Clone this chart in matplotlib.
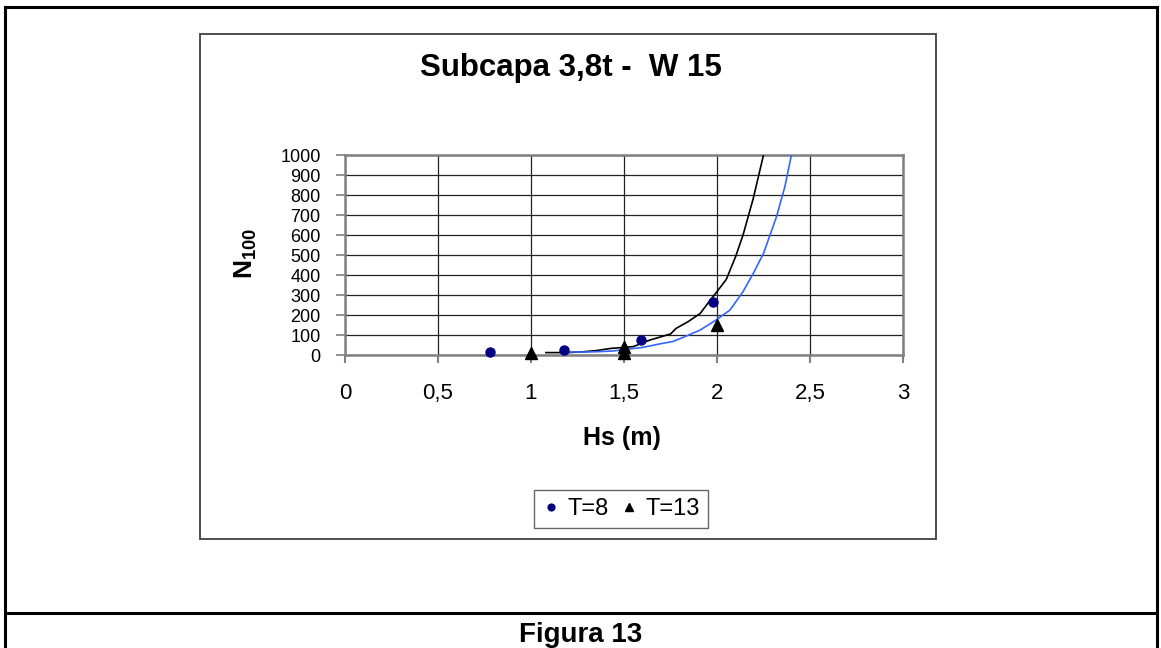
import matplotlib
matplotlib.use("Agg")
import matplotlib.pyplot as plt
from matplotlib import font_manager
from matplotlib.lines import Line2D
from matplotlib.patches import Rectangle

# Measured points (Hs in m, N100)
hs_t8 = [0.78, 1.18, 1.59, 1.98]
n_t8 = [15, 25, 77, 265]
hs_t13 = [1.0, 1.5, 1.5, 2.0]
n_t13 = [8, 40, 12, 150]

# Fitted curves
hs_curve_black = [1.08, 1.2, 1.28, 1.35, 1.43, 1.5, 1.55, 1.64, 1.75, 1.78,
                  1.845, 1.91, 1.96, 2.0, 2.05, 2.1, 2.14, 2.195, 2.25]
n_curve_black = [12, 12, 16, 22, 33, 38, 42, 75, 105, 133,
                 167, 208, 270, 317, 378, 492, 600, 783, 1000]
hs_curve_blue = [1.17, 1.3, 1.37, 1.44, 1.51, 1.6, 1.69, 1.765, 1.835,
                 1.91, 1.995, 2.07, 2.14, 2.195, 2.25, 2.32, 2.365, 2.40]
n_curve_blue = [15, 15, 17, 20, 28, 38, 55, 68, 95,
                125, 175, 225, 317, 408, 508, 692, 842, 1000]

x_ticks = [0, 0.5, 1, 1.5, 2, 2.5, 3]
x_tick_labels = ["0", "0,5", "1", "1,5", "2", "2,5", "3"]
y_ticks = list(range(0, 1001, 100))

W, H = 1161, 648

names = {f.name for f in font_manager.fontManager.ttflist}
base_font = "Liberation Sans" if "Liberation Sans" in names else "DejaVu Sans"
narrow_font = "Liberation Sans Narrow" if "Liberation Sans Narrow" in names else base_font
plt.rcParams["font.family"] = [base_font, "DejaVu Sans"]
plt.rcParams["mathtext.fontset"] = "custom"
plt.rcParams["mathtext.rm"] = base_font
plt.rcParams["mathtext.bf"] = base_font + ":bold"


def fx(x):
    return x / W


def fy(y):
    return 1 - y / H


fig = plt.figure(figsize=(W / 100, H / 100), dpi=100)

# page frame and chart box
for xs, ys in [((5, 5), (7, 648)), ((5, 1157), (7, 7)),
               ((1157, 1157), (7, 648)), ((5, 1157), (613, 613))]:
    fig.add_artist(Line2D([fx(v) for v in xs], [fy(v) for v in ys],
                          color="black", lw=2.2))
fig.add_artist(Rectangle((fx(200), fy(539)), fx(936) - fx(200), fy(34) - fy(539),
                         fill=False, edgecolor="#404040", lw=1.3))

ax = fig.add_axes([fx(345), fy(355), fx(903) - fx(345), fy(155) - fy(355)])

ax.plot(hs_curve_black, n_curve_black, color="black", lw=1.2, zorder=3)
ax.plot(hs_curve_blue, n_curve_blue, color="#3366FF", lw=1.2, zorder=3)
ax.plot(hs_t8, n_t8, ls="none", marker="o", ms=6.5, color="#000080",
        label="T=8", zorder=4, clip_on=False)
ax.plot(hs_t13, n_t13, ls="none", marker="^", ms=8.5, color="black",
        label="T=13", zorder=4, clip_on=False)

ax.set_xlim(0, 3)
ax.set_ylim(0, 1000)
ax.set_xticks(x_ticks, labels=x_tick_labels)
ax.set_yticks(y_ticks)
ax.grid(True, color="#222222", lw=0.9)
ax.set_axisbelow(True)
for sp in ax.spines.values():
    sp.set_color("#808080")
    sp.set_linewidth(1.8)

ax.tick_params(axis="x", direction="out", length=6, width=1.5, color="#808080",
               pad=14, labelsize=16)
ax.tick_params(axis="y", direction="out", length=6.5, width=1.2, color="#808080",
               pad=11, labelsize=13)
for lab in ax.get_yticklabels():
    lab.set_fontfamily(narrow_font)

fig.text(fx(571), fy(68), "Subcapa 3,8t -  W 15", ha="center", va="center",
         fontsize=22.5, fontweight="bold")
fig.text(fx(622), fy(438), "Hs (m)", ha="center", va="center",
         fontsize=18, fontweight="bold")
fig.text(fx(246), fy(253), r"$\mathbf{N_{100}}$", ha="center", va="center",
         rotation=90, fontsize=19)
fig.text(fx(581), fy(642), "Figura 13", ha="center", va="baseline",
         fontsize=20, fontweight="bold")

leg = ax.legend(loc="center", bbox_to_anchor=(fx(621), fy(509)),
                bbox_transform=fig.transFigure, ncol=2, fontsize=17,
                frameon=True, fancybox=False, handlelength=0.7,
                handletextpad=0.35, columnspacing=0.5, borderpad=0.35,
                markerscale=0.75)
leg.get_frame().set_edgecolor("#404040")
leg.get_frame().set_linewidth(1.0)

fig.savefig("out.png", dpi=100)
